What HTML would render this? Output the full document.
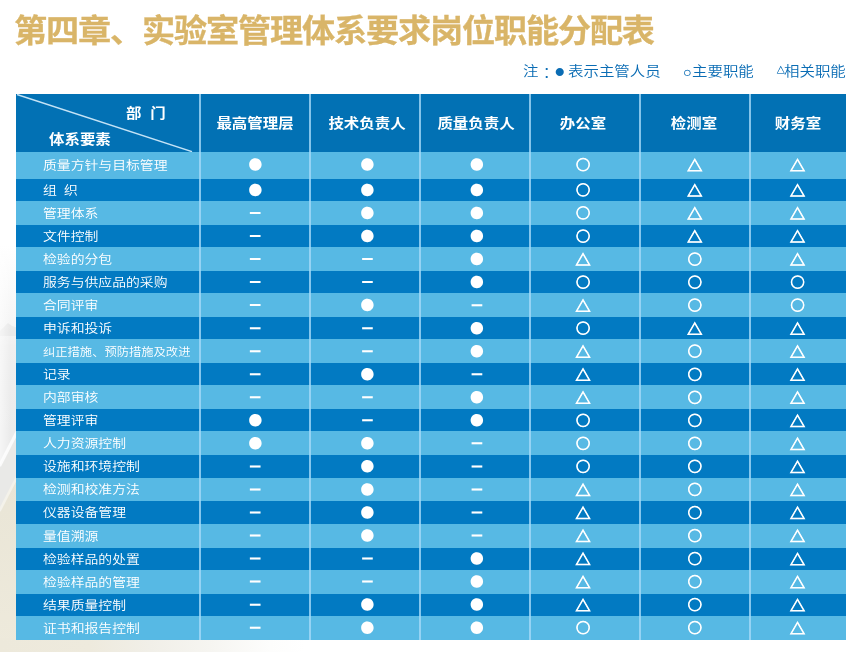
<!DOCTYPE html>
<html lang="zh-CN">
<head>
<meta charset="utf-8">
<title>第四章、实验室管理体系要求岗位职能分配表</title>
<style>
html,body{margin:0;padding:0;}
body{width:859px;height:652px;position:relative;overflow:hidden;background:#fff;font-family:"Liberation Sans","Noto Sans CJK SC",sans-serif;}
.bgl{position:absolute;left:0;top:0;}
.bgb{position:absolute;left:0;top:638px;width:310px;height:14px;background:linear-gradient(to right,#ede9db 0,#eeeadd 90px,#f1efe8 150px,#f6f5f1 210px,#fdfdfc 270px,#ffffff 305px);}
h1{position:absolute;left:14.1px;top:9px;margin:0;font-size:31.6px;line-height:44px;font-weight:700;color:#d9b568;-webkit-text-stroke:0.28px #d9b568;white-space:nowrap;letter-spacing:-1.124px;transform:scaleX(1.05);transform-origin:0 0;}
.note{position:absolute;top:60px;height:24px;line-height:24px;font-size:13.8px;font-weight:350;transform:scaleX(1.12);transform-origin:0 0;color:#0a6cb4;white-space:nowrap;}
.note.sy{height:20px;line-height:20px;transform:none;}
.tbl{position:absolute;left:16px;top:94px;width:830px;height:546px;background:#57b9e4;overflow:hidden;}
.hd{position:absolute;left:0;top:0;width:830px;height:58px;background:#0271b4;}
.r{position:absolute;left:0;width:830px;}
.r.d{background:#027ac2;}
.r.l{background:#57b9e4;}
.v{position:absolute;top:0;width:2px;height:546px;background:rgba(165,218,247,.8);}
.th{position:absolute;top:13.6px;height:30px;line-height:30px;width:110px;text-align:center;color:#fff;font-weight:700;font-size:13.9px;white-space:nowrap;transform:scaleX(1.112);transform-origin:50% 50%;}
.lb{position:absolute;left:27.2px;height:20px;line-height:20px;color:#fff;font-weight:350;font-size:12.45px;white-space:nowrap;transform:scaleX(1.112);transform-origin:0 50%;}
.lb.s{font-size:11.05px;}
svg.sym{position:absolute;left:0;top:0;fill:#fff;font-family:"Noto Sans CJK SC",sans-serif;font-size:13.75px;text-anchor:middle;}
svg.sym .o{font-size:14.2px;stroke:#fff;stroke-width:.92px;}
svg.sym .t{font-size:15px;stroke:#fff;stroke-width:.87px;}
svg.sym .d{font-family:"Liberation Sans",sans-serif;font-weight:700;font-size:21.4px;}
</style>
</head>
<body>
<svg class="bgl" width="18" height="652" viewBox="0 0 18 652">
<defs>
<linearGradient id="g1" x1="0" y1="0" x2="0" y2="1"><stop offset="0" stop-color="#ffffff"/><stop offset="0.4" stop-color="#f6f6f6"/><stop offset="0.55" stop-color="#efefef"/><stop offset="1" stop-color="#ebebeb"/></linearGradient>
<linearGradient id="g2" x1="0" y1="0" x2="0" y2="1"><stop offset="0" stop-color="#e9e5d6"/><stop offset="1" stop-color="#eeeadc"/></linearGradient>
<linearGradient id="g3" x1="0" y1="0" x2="1" y2="0"><stop offset="0" stop-color="#ffffff" stop-opacity="0.55"/><stop offset="1" stop-color="#ffffff" stop-opacity="0"/></linearGradient>
</defs>
<rect x="0" y="245" width="18" height="185" fill="url(#g1)"/><rect x="0" y="430" width="18" height="100" fill="#ebebeb"/>
<path d="M0 331l4-4 4-4 4 3 6 2v8H0z" fill="#e3e3e3" opacity=".6"/>
<path d="M18 430L0 465v45l18-35z" fill="#e9e9e7"/>
<path d="M18 475L0 510V652h18z" fill="url(#g2)"/>
<path d="M18.5 429L-.5 466" stroke="#fbfbfb" stroke-width="3.2" fill="none"/>
<path d="M18.5 474L-.5 511" stroke="#f4f2ea" stroke-width="2.6" fill="none"/>
<path d="M0 245h10v200L0 465z" fill="url(#g3)"/>
</svg>
<div class="bgb"></div>
<h1>第四章、实验室管理体系要求岗位职能分配表</h1>
<div class="note" style="left:523.4px">注</div>
<div class="note" lang="zh-TW" style="left:538.9px;font-family:'Noto Sans CJK TC','Noto Sans CJK SC',sans-serif">：</div>
<div class="note sy" style="left:555.3px;top:62px;font-family:'Noto Sans CJK SC',sans-serif;font-size:9px">●</div>
<div class="note" style="left:568.2px">表示主管人员</div>
<div class="note sy" style="left:683px;top:61.6px;font-family:'Liberation Sans',sans-serif;font-size:14px;-webkit-text-stroke:0.15px #0a6cb4">○</div>
<div class="note" style="left:692.2px">主要职能</div>
<div class="note sy" style="left:776.7px;top:60.6px;font-family:'DejaVu Sans','Noto Sans CJK SC',sans-serif;font-size:8px;-webkit-text-stroke:0.25px #0a6cb4">△</div>
<div class="note" style="left:784.4px">相关职能</div>
<div class="tbl">
<div class="hd"></div>
<div class="r l" style="top:58px;height:27px"></div>
<div class="r d" style="top:85px;height:22px"></div>
<div class="r l" style="top:107px;height:24px"></div>
<div class="r d" style="top:131px;height:22px"></div>
<div class="r l" style="top:153px;height:24px"></div>
<div class="r d" style="top:177px;height:22px"></div>
<div class="r l" style="top:199px;height:24px"></div>
<div class="r d" style="top:223px;height:22px"></div>
<div class="r l" style="top:245px;height:24px"></div>
<div class="r d" style="top:269px;height:22px"></div>
<div class="r l" style="top:291px;height:24px"></div>
<div class="r d" style="top:315px;height:22px"></div>
<div class="r l" style="top:337px;height:24px"></div>
<div class="r d" style="top:361px;height:23px"></div>
<div class="r l" style="top:384px;height:23px"></div>
<div class="r d" style="top:407px;height:23px"></div>
<div class="r l" style="top:430px;height:24px"></div>
<div class="r d" style="top:454px;height:22px"></div>
<div class="r l" style="top:476px;height:24px"></div>
<div class="r d" style="top:500px;height:22px"></div>
<div class="r l" style="top:522px;height:24px"></div>
<div class="v" style="left:183px"></div>
<div class="v" style="left:293px"></div>
<div class="v" style="left:403px"></div>
<div class="v" style="left:513px"></div>
<div class="v" style="left:623px"></div>
<div class="v" style="left:733px"></div>
<svg style="position:absolute;left:0;top:0" width="184" height="58" viewBox="0 0 184 58"><line x1="1" y1="0.5" x2="176" y2="57.6" stroke="#c4e3f6" stroke-width="1.5"/></svg>
<div class="th" style="left:110.3px;top:3.8px;width:60px;text-align:left;transform-origin:0 50%">部<span style="display:inline-block;width:7.9px"></span>门</div>
<div class="th" style="left:33px;top:29.8px;width:70px;text-align:left;transform-origin:0 50%">体系要素</div>
<div class="th" style="left:184px">最高管理层</div>
<div class="th" style="left:296px">技术负责人</div>
<div class="th" style="left:405px">质量负责人</div>
<div class="th" style="left:512px">办公室</div>
<div class="th" style="left:623px">检测室</div>
<div class="th" style="left:727px">财务室</div>
<div class="lb" style="top:61.55px">质量方针与目标管理</div>
<div class="lb" style="top:86.90px">组<span style="display:inline-block;width:6.5px"></span>织</div>
<div class="lb" style="top:109.94px">管理体系</div>
<div class="lb" style="top:132.98px">文件控制</div>
<div class="lb" style="top:156.02px">检验的分包</div>
<div class="lb" style="top:179.06px">服务与供应品的采购</div>
<div class="lb" style="top:202.10px">合同评审</div>
<div class="lb" style="top:225.14px">申诉和投诉</div>
<div class="lb s" style="top:248.18px">纠正措施、预防措施及改进</div>
<div class="lb" style="top:271.22px">记录</div>
<div class="lb" style="top:294.26px">内部审核</div>
<div class="lb" style="top:317.30px">管理评审</div>
<div class="lb" style="top:340.34px">人力资源控制</div>
<div class="lb" style="top:363.38px">设施和环境控制</div>
<div class="lb" style="top:386.42px">检测和校准方法</div>
<div class="lb" style="top:409.46px">仪器设备管理</div>
<div class="lb" style="top:432.50px">量值溯源</div>
<div class="lb" style="top:455.54px">检验样品的处置</div>
<div class="lb" style="top:478.58px">检验样品的管理</div>
<div class="lb" style="top:501.62px">结果质量控制</div>
<div class="lb" style="top:524.66px">证书和报告控制</div>
<svg class="sym" width="830" height="546" viewBox="0 0 830 546"><g transform="rotate(0.03 415 273)">
<text x="239.19" y="75.89">●</text><text x="351.39" y="75.83">●</text><text x="460.89" y="75.78">●</text><text class="o" x="566.99" y="75.92">○</text><text class="t" x="678.69" y="77.01">△</text><text class="t" x="781.39" y="76.96">△</text>
<text x="239.21" y="101.24">●</text><text x="351.41" y="101.18">●</text><text x="460.91" y="101.13">●</text><text class="o" x="567.01" y="101.27">○</text><text class="t" x="678.71" y="102.36">△</text><text class="t" x="781.41" y="102.31">△</text>
<text class="d" x="239.22" y="124.81">–</text><text x="351.42" y="124.22">●</text><text x="460.92" y="124.17">●</text><text class="o" x="567.02" y="124.31">○</text><text class="t" x="678.72" y="125.40">△</text><text class="t" x="781.42" y="125.35">△</text>
<text class="d" x="239.23" y="147.85">–</text><text x="351.43" y="147.26">●</text><text x="460.93" y="147.21">●</text><text class="o" x="567.03" y="147.35">○</text><text class="t" x="678.73" y="148.44">△</text><text class="t" x="781.43" y="148.39">△</text>
<text class="d" x="239.24" y="170.89">–</text><text class="d" x="351.44" y="170.83">–</text><text x="460.94" y="170.25">●</text><text class="t" x="567.04" y="171.54">△</text><text class="o" x="678.74" y="170.33">○</text><text class="t" x="781.44" y="171.43">△</text>
<text class="d" x="239.26" y="193.93">–</text><text class="d" x="351.46" y="193.87">–</text><text x="460.96" y="193.29">●</text><text class="o" x="567.06" y="193.43">○</text><text class="o" x="678.76" y="193.37">○</text><text class="o" x="781.46" y="193.32">○</text>
<text class="d" x="239.27" y="216.97">–</text><text x="351.47" y="216.38">●</text><text class="d" x="460.97" y="216.86">–</text><text class="t" x="567.07" y="217.62">△</text><text class="o" x="678.77" y="216.41">○</text><text class="o" x="781.47" y="216.36">○</text>
<text class="d" x="239.28" y="240.01">–</text><text class="d" x="351.48" y="239.95">–</text><text x="460.98" y="239.37">●</text><text class="o" x="567.08" y="239.51">○</text><text class="t" x="678.78" y="240.60">△</text><text class="t" x="781.48" y="240.55">△</text>
<text class="d" x="239.29" y="263.05">–</text><text class="d" x="351.49" y="262.99">–</text><text x="460.99" y="262.41">●</text><text class="t" x="567.09" y="263.70">△</text><text class="o" x="678.79" y="262.49">○</text><text class="t" x="781.49" y="263.59">△</text>
<text class="d" x="239.30" y="286.09">–</text><text x="351.50" y="285.50">●</text><text class="d" x="461.00" y="285.98">–</text><text class="t" x="567.10" y="286.74">△</text><text class="o" x="678.80" y="285.53">○</text><text class="t" x="781.50" y="286.63">△</text>
<text class="d" x="239.32" y="309.13">–</text><text class="d" x="351.52" y="309.07">–</text><text x="461.02" y="308.49">●</text><text class="t" x="567.12" y="309.78">△</text><text class="o" x="678.82" y="308.57">○</text><text class="t" x="781.52" y="309.67">△</text>
<text x="239.33" y="331.64">●</text><text class="d" x="351.53" y="332.11">–</text><text x="461.03" y="331.53">●</text><text class="o" x="567.13" y="331.67">○</text><text class="o" x="678.83" y="331.61">○</text><text class="t" x="781.53" y="332.71">△</text>
<text x="239.34" y="354.68">●</text><text x="351.54" y="354.62">●</text><text class="d" x="461.04" y="355.10">–</text><text class="o" x="567.14" y="354.71">○</text><text class="o" x="678.84" y="354.65">○</text><text class="t" x="781.54" y="355.75">△</text>
<text class="d" x="239.35" y="378.25">–</text><text x="351.55" y="377.66">●</text><text class="d" x="461.05" y="378.14">–</text><text class="o" x="567.15" y="377.75">○</text><text class="o" x="678.85" y="377.69">○</text><text class="t" x="781.55" y="378.79">△</text>
<text class="d" x="239.36" y="401.29">–</text><text x="351.56" y="400.70">●</text><text class="d" x="461.06" y="401.18">–</text><text class="t" x="567.16" y="401.94">△</text><text class="o" x="678.86" y="400.73">○</text><text class="t" x="781.56" y="401.83">△</text>
<text class="d" x="239.38" y="424.33">–</text><text x="351.58" y="423.74">●</text><text class="d" x="461.08" y="424.22">–</text><text class="t" x="567.18" y="424.98">△</text><text class="o" x="678.88" y="423.77">○</text><text class="t" x="781.58" y="424.87">△</text>
<text class="d" x="239.39" y="447.37">–</text><text x="351.59" y="446.78">●</text><text class="d" x="461.09" y="447.26">–</text><text class="t" x="567.19" y="448.02">△</text><text class="o" x="678.89" y="446.81">○</text><text class="t" x="781.59" y="447.91">△</text>
<text class="d" x="239.40" y="470.41">–</text><text class="d" x="351.60" y="470.35">–</text><text x="461.10" y="469.77">●</text><text class="t" x="567.20" y="471.06">△</text><text class="o" x="678.90" y="469.85">○</text><text class="t" x="781.60" y="470.95">△</text>
<text class="d" x="239.41" y="493.45">–</text><text class="d" x="351.61" y="493.39">–</text><text x="461.11" y="492.81">●</text><text class="t" x="567.21" y="494.10">△</text><text class="o" x="678.91" y="492.89">○</text><text class="t" x="781.61" y="493.99">△</text>
<text class="d" x="239.42" y="516.49">–</text><text x="351.62" y="515.90">●</text><text x="461.12" y="515.85">●</text><text class="t" x="567.22" y="517.14">△</text><text class="o" x="678.92" y="515.93">○</text><text class="t" x="781.62" y="517.03">△</text>
<text class="d" x="239.44" y="539.53">–</text><text x="351.64" y="538.94">●</text><text x="461.14" y="538.89">●</text><text class="o" x="567.24" y="539.03">○</text><text class="o" x="678.94" y="538.97">○</text><text class="t" x="781.64" y="540.07">△</text>
</g></svg>
</div>
</body>
</html>
